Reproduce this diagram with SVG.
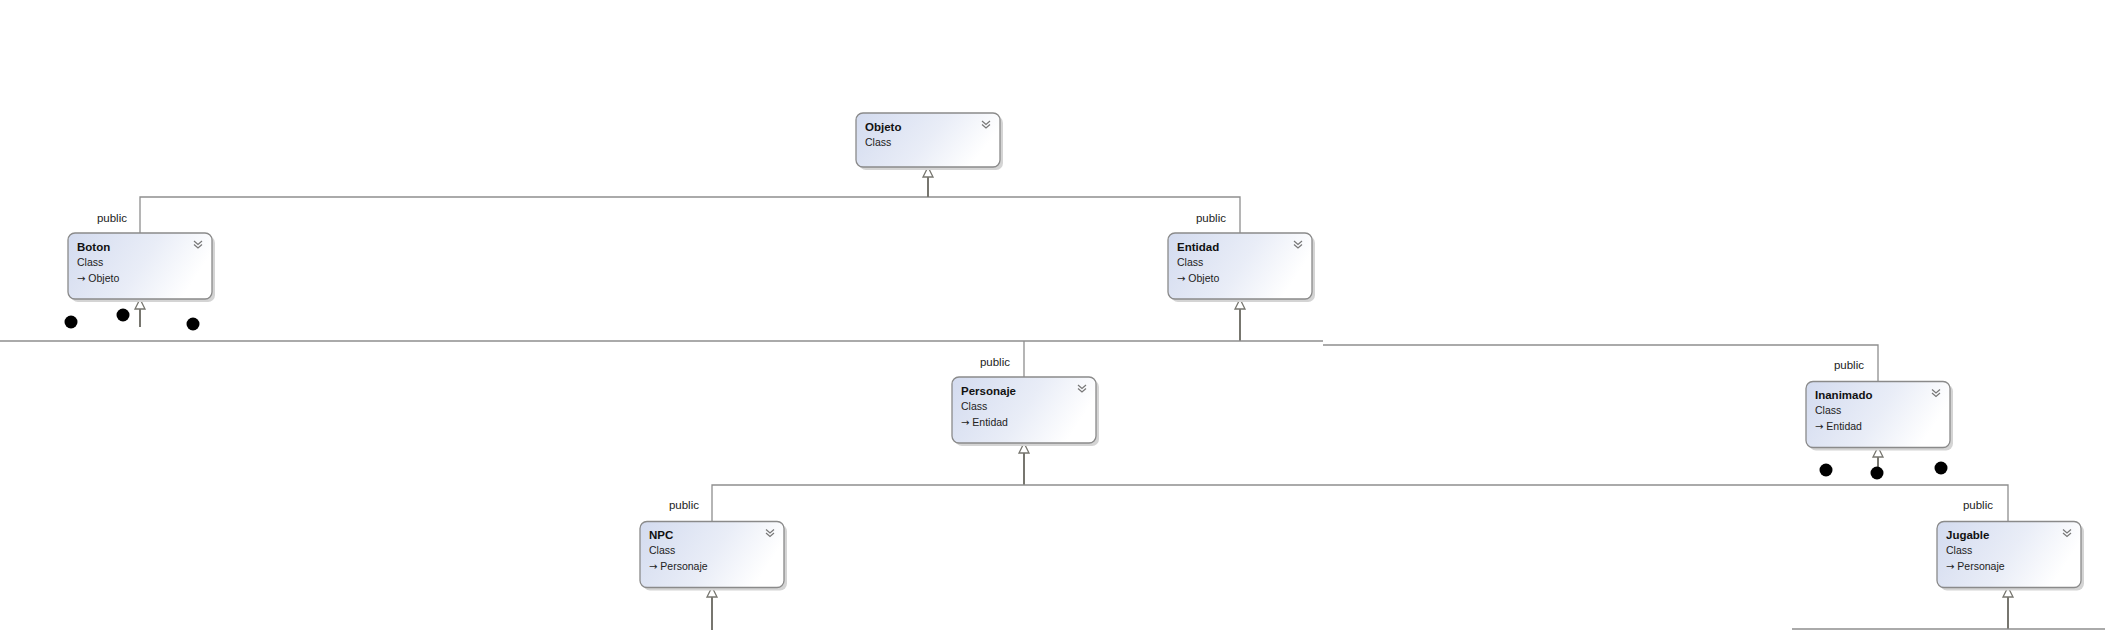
<svg xmlns="http://www.w3.org/2000/svg" width="2105" height="630" viewBox="0 0 2105 630">
<defs>
<linearGradient id="g" x1="0" y1="0" x2="1" y2="0.3">
<stop offset="0" stop-color="#d3dbef"/>
<stop offset="0.6" stop-color="#e9edf7"/>
<stop offset="1" stop-color="#ffffff"/>
</linearGradient>
<style>
.sh{fill:#d4d4d4}
.bx{fill:url(#g);stroke:#8a8a8a;stroke-width:1.3}
.t{font-family:"Liberation Sans",Arial,sans-serif;font-size:11.5px;font-weight:bold;fill:#111}
.s{font-family:"Liberation Sans",Arial,sans-serif;font-size:10.5px;fill:#222}
.a{font-family:"DejaVu Sans",sans-serif;font-size:10px}
.p{font-family:"Liberation Sans",Arial,sans-serif;font-size:11.5px;fill:#222;text-anchor:end}
.ch{fill:none;stroke:#777;stroke-width:1.2}
.ln{fill:none;stroke:#8e8e8e;stroke-width:1.3}
.st{fill:none;stroke:#77766f;stroke-width:2}
.ah{fill:#fff;stroke:#77766f;stroke-width:1.3}
.dot{fill:#000}
</style>
</defs>
<rect width="2105" height="630" fill="#fff"/>
<g id="connectors">
<path class="ln" d="M140,233 V197 H1240 V233"/>
<path class="st" d="M928,177 V197"/>
<path class="st" d="M140,309 V327"/>
<path class="st" d="M1240,309 V341"/>
<path class="ln" d="M0,341 H1323"/>
<path class="ln" d="M1323,345 H1878 V382"/>
<path class="ln" d="M1024,341 V377"/>
<path class="st" d="M1024,453 V485"/>
<path class="ln" d="M712,522 V485 H2008 V522"/>
<path class="st" d="M1878,457 V471"/>
<path class="st" d="M712,597 V630"/>
<path class="st" d="M2008,597 V629"/>
<path class="ln" d="M1792,629 H2105"/>
<polygon class="ah" points="928,167 923,177 933,177"/>
<polygon class="ah" points="140,299 135,309 145,309"/>
<polygon class="ah" points="1240,299 1235,309 1245,309"/>
<polygon class="ah" points="1024,443 1019,453 1029,453"/>
<polygon class="ah" points="1878,447 1873,457 1883,457"/>
<polygon class="ah" points="712,587 707,597 717,597"/>
<polygon class="ah" points="2008,587 2003,597 2013,597"/>
<text class="p" x="127" y="222">public</text>
<text class="p" x="1226" y="222">public</text>
<text class="p" x="1010" y="366">public</text>
<text class="p" x="1864" y="369">public</text>
<text class="p" x="699" y="509">public</text>
<text class="p" x="1993" y="509">public</text>
</g>
<g id="dots">
<circle class="dot" cx="71" cy="322" r="6.5"/>
<circle class="dot" cx="123" cy="315" r="6.5"/>
<circle class="dot" cx="193" cy="324" r="6.5"/>
<circle class="dot" cx="1826" cy="470" r="6.5"/>
<circle class="dot" cx="1877" cy="473" r="6.5"/>
<circle class="dot" cx="1941" cy="468" r="6.5"/>
</g>
<g id="Objeto" transform="translate(856,113)">
<rect class="sh" x="3" y="3" width="144" height="54" rx="7"/>
<rect class="bx" x="0" y="0" width="144" height="54" rx="7"/>
<path class="ch" d="M126,8 l4,3.5 l4,-3.5 M126,11.5 l4,3.5 l4,-3.5"/>
<text class="t" x="9" y="17.7">Objeto</text>
<text class="s" x="9" y="32.7">Class</text>
</g>
<g id="Boton" transform="translate(68,233)">
<rect class="sh" x="3" y="3" width="144" height="66" rx="7"/>
<rect class="bx" x="0" y="0" width="144" height="66" rx="7"/>
<path class="ch" d="M126,8 l4,3.5 l4,-3.5 M126,11.5 l4,3.5 l4,-3.5"/>
<text class="t" x="9" y="17.7">Boton</text>
<text class="s" x="9" y="32.7">Class</text>
<text class="s" x="9" y="48.7"><tspan class="a">→</tspan> Objeto</text>
</g>
<g id="Entidad" transform="translate(1168,233)">
<rect class="sh" x="3" y="3" width="144" height="66" rx="7"/>
<rect class="bx" x="0" y="0" width="144" height="66" rx="7"/>
<path class="ch" d="M126,8 l4,3.5 l4,-3.5 M126,11.5 l4,3.5 l4,-3.5"/>
<text class="t" x="9" y="17.7">Entidad</text>
<text class="s" x="9" y="32.7">Class</text>
<text class="s" x="9" y="48.7"><tspan class="a">→</tspan> Objeto</text>
</g>
<g id="Personaje" transform="translate(952,377)">
<rect class="sh" x="3" y="3" width="144" height="66" rx="7"/>
<rect class="bx" x="0" y="0" width="144" height="66" rx="7"/>
<path class="ch" d="M126,8 l4,3.5 l4,-3.5 M126,11.5 l4,3.5 l4,-3.5"/>
<text class="t" x="9" y="17.7">Personaje</text>
<text class="s" x="9" y="32.7">Class</text>
<text class="s" x="9" y="48.7"><tspan class="a">→</tspan> Entidad</text>
</g>
<g id="Inanimado" transform="translate(1806,381.5)">
<rect class="sh" x="3" y="3" width="144" height="66" rx="7"/>
<rect class="bx" x="0" y="0" width="144" height="66" rx="7"/>
<path class="ch" d="M126,8 l4,3.5 l4,-3.5 M126,11.5 l4,3.5 l4,-3.5"/>
<text class="t" x="9" y="17.7">Inanimado</text>
<text class="s" x="9" y="32.7">Class</text>
<text class="s" x="9" y="48.7"><tspan class="a">→</tspan> Entidad</text>
</g>
<g id="NPC" transform="translate(640,521.5)">
<rect class="sh" x="3" y="3" width="144" height="66" rx="7"/>
<rect class="bx" x="0" y="0" width="144" height="66" rx="7"/>
<path class="ch" d="M126,8 l4,3.5 l4,-3.5 M126,11.5 l4,3.5 l4,-3.5"/>
<text class="t" x="9" y="17.7">NPC</text>
<text class="s" x="9" y="32.7">Class</text>
<text class="s" x="9" y="48.7"><tspan class="a">→</tspan> Personaje</text>
</g>
<g id="Jugable" transform="translate(1937,521.5)">
<rect class="sh" x="3" y="3" width="144" height="66" rx="7"/>
<rect class="bx" x="0" y="0" width="144" height="66" rx="7"/>
<path class="ch" d="M126,8 l4,3.5 l4,-3.5 M126,11.5 l4,3.5 l4,-3.5"/>
<text class="t" x="9" y="17.7">Jugable</text>
<text class="s" x="9" y="32.7">Class</text>
<text class="s" x="9" y="48.7"><tspan class="a">→</tspan> Personaje</text>
</g>
</svg>
